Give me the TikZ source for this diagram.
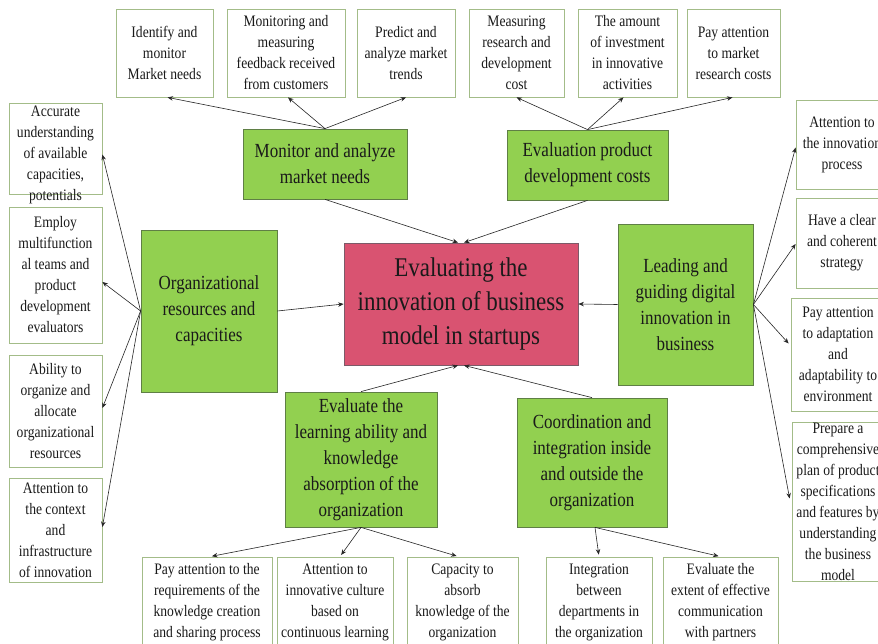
\documentclass[tikz,border=0pt]{standalone}
\usepackage{fontspec}
\setmainfont{Liberation Serif}[FakeStretch=0.85]
\usetikzlibrary{arrows.meta}
\definecolor{gfill}{HTML}{92D050}
\definecolor{gline}{HTML}{5F7F45}
\definecolor{wline}{HTML}{A3BC88}
\definecolor{pfill}{RGB}{217,83,113}
\definecolor{pline}{HTML}{7C5A68}
\definecolor{txt}{HTML}{1A1A1A}
\begin{document}
\begin{tikzpicture}[x=1pt,y=-1pt,
  wbox/.style={draw=wline, line width=0.8pt, fill=white, align=center, inner sep=0pt, text=txt, font=\fontsize{16}{21}\selectfont},
  wtext/.style={align=center, inner sep=0pt, text=txt, font=\fontsize{16}{21}\selectfont},
  gbox/.style={draw=gline, line width=0.8pt, fill=gfill, align=center, inner sep=0pt, text=txt, font=\fontsize{20}{26}\selectfont},
  pbox/.style={draw=pline, line width=0.8pt, fill=pfill, align=center, inner sep=0pt, text=txt, font=\fontsize{27}{34}\selectfont},
  arr/.style={-{Stealth[length=5.5pt,width=4.5pt]}, line width=0.6pt, draw=black!85}]
\useasboundingbox (0,0) rectangle (878,644);
\clip (0,0) rectangle (878,644);
\fill[white] (0,0) rectangle (878,644);

% top boxes
\node[wbox, minimum width=97pt, minimum height=88pt] (t1) at (164.5,53) {Identify and\\monitor\\Market needs};
\node[wbox, minimum width=118pt, minimum height=88pt] (t2) at (286,53) {Monitoring and\\measuring\\feedback received\\from customers};
\node[wbox, minimum width=98pt, minimum height=88pt] (t3) at (406,53) {Predict and\\analyze market\\trends};
\node[wbox, minimum width=95pt, minimum height=88pt] (t4) at (516.5,53) {Measuring\\research and\\development\\cost};
\node[wbox, minimum width=99pt, minimum height=88pt] (t5) at (627.5,53) {The amount\\of investment\\in innovative\\activities};
\node[wbox, minimum width=93pt, minimum height=88pt] (t6) at (733.5,53) {Pay attention\\to market\\research costs};

% green boxes
\node[gbox, minimum width=164pt, minimum height=70pt] (mon) at (325,164) {Monitor and analyze\\market needs};
\node[gbox, minimum width=161pt, minimum height=70pt] (evc) at (587.5,165) {Evaluation product\\development costs};
\node[gbox, minimum width=136pt, minimum height=162pt] (org) at (209,311) {Organizational\\resources and\\capacities};
\node[gbox, minimum width=135pt, minimum height=161pt] (lead) at (685.5,304.5) {Leading and\\guiding digital\\innovation in\\business};
\node[gbox, minimum width=152pt, minimum height=135pt] (evl) at (361,459.5) {Evaluate the\\learning ability and\\knowledge\\absorption of the\\organization};
\node[gbox, minimum width=150pt, minimum height=129pt] (coo) at (592,462.5) {Coordination and\\integration inside\\and outside the\\organization};

% center
\node[pbox, minimum width=234pt, minimum height=122pt] (ctr) at (461,304) {Evaluating the\\innovation of business\\model in startups};

% left boxes
\node[wbox, minimum width=93pt, minimum height=91pt] (l1) at (55.5,148.5) {};
\node[wtext] (l1t) at (55.5,155) {Accurate\\understanding\\of available\\capacities,\\potentials};
\node[wbox, minimum width=93pt, minimum height=136pt] (l2) at (55.5,275) {Employ\\multifunction\\al teams and\\product\\development\\evaluators};
\node[wbox, minimum width=93pt, minimum height=112pt] (l3) at (55.5,411) {Ability to\\organize and\\allocate\\organizational\\resources};
\node[wbox, minimum width=93pt, minimum height=104pt] (l4) at (55.5,530) {Attention to\\the context\\and\\infrastructure\\of innovation};

% right boxes
\node[wbox, minimum width=92pt, minimum height=89pt] (r1) at (842,144.5) {Attention to\\the innovation\\process};
\node[wbox, minimum width=92pt, minimum height=90pt] (r2) at (842,243) {Have a clear\\and coherent\\strategy};
\node[wbox, minimum width=94pt, minimum height=113pt] (r3) at (838,354.5) {Pay attention\\to adaptation\\and\\adaptability to\\environment};
\node[wbox, minimum width=92pt, minimum height=159pt] (r4) at (838,501.5) {Prepare a\\comprehensive\\plan of product\\specifications\\and features by\\understanding\\the business\\model};

% bottom boxes
\node[wbox, minimum width=130pt, minimum height=90pt] (b1) at (207,602) {Pay attention to the\\requirements of the\\knowledge creation\\and sharing process};
\node[wbox, minimum width=116pt, minimum height=90pt] (b2) at (335,602) {Attention to\\innovative culture\\based on\\continuous learning};
\node[wbox, minimum width=111pt, minimum height=90pt] (b3) at (462.5,602) {Capacity to\\absorb\\knowledge of the\\organization};
\node[wbox, minimum width=106pt, minimum height=90pt] (b4) at (599,602) {Integration\\between\\departments in\\the organization};
\node[wbox, minimum width=115pt, minimum height=90pt] (b5) at (720.5,602) {Evaluate the\\extent of effective\\communication\\with partners};

% arrows top
\draw[arr] (mon.north) -- ([xshift=3pt]t1.south);
\draw[arr] (mon.north) -- ([xshift=2pt]t2.south);
\draw[arr] (mon.north) -- (t3.south);
\draw[arr] (evc.north) -- (t4.south);
\draw[arr] (evc.north) -- ([xshift=-4pt]t5.south);
\draw[arr] (evc.north) -- ([xshift=-1pt]t6.south);

% arrows to center
\draw[arr] (mon.south) -- ([xshift=-3pt]ctr.north);
\draw[arr] (evc.south) -- ([xshift=3pt]ctr.north);
\draw[arr] (org.east) -- (ctr.west);
\draw[arr] (lead.west) -- (ctr.east);
\draw[arr] (evl.north) -- ([xshift=-3pt]ctr.south);
\draw[arr] (coo.north) -- ([xshift=3pt]ctr.south);

% left arrows
\draw[arr] (org.west) -- ([yshift=-6pt]l1.east);
\draw[arr] (org.west) -- ([yshift=-7pt]l2.east);
\draw[arr] (org.west) -- ([yshift=3pt]l3.east);
\draw[arr] (org.west) -- ([yshift=3pt]l4.east);

% right arrows
\draw[arr] (lead.east) -- ([yshift=-3pt]r1.west);
\draw[arr] (lead.east) -- ([yshift=-1pt]r2.west);
\draw[arr] (lead.east) -- ([yshift=11pt,xshift=-2pt]r3.west);
\draw[arr] (lead.east) -- ([yshift=3pt,xshift=-2pt]r4.west);

% bottom arrows
\draw[arr, shorten >=2pt] (evl.south) -- ([xshift=3pt]b1.north);
\draw[arr, shorten >=2pt] (evl.south) -- ([xshift=5pt]b2.north);
\draw[arr, shorten >=2pt] (evl.south) -- ([xshift=-4pt]b3.north);
\draw[arr, shorten >=2pt] ([xshift=3pt]coo.south) -- (b4.north);
\draw[arr, shorten >=2pt] ([xshift=3pt]coo.south) -- (b5.north);
\end{tikzpicture}
\end{document}
